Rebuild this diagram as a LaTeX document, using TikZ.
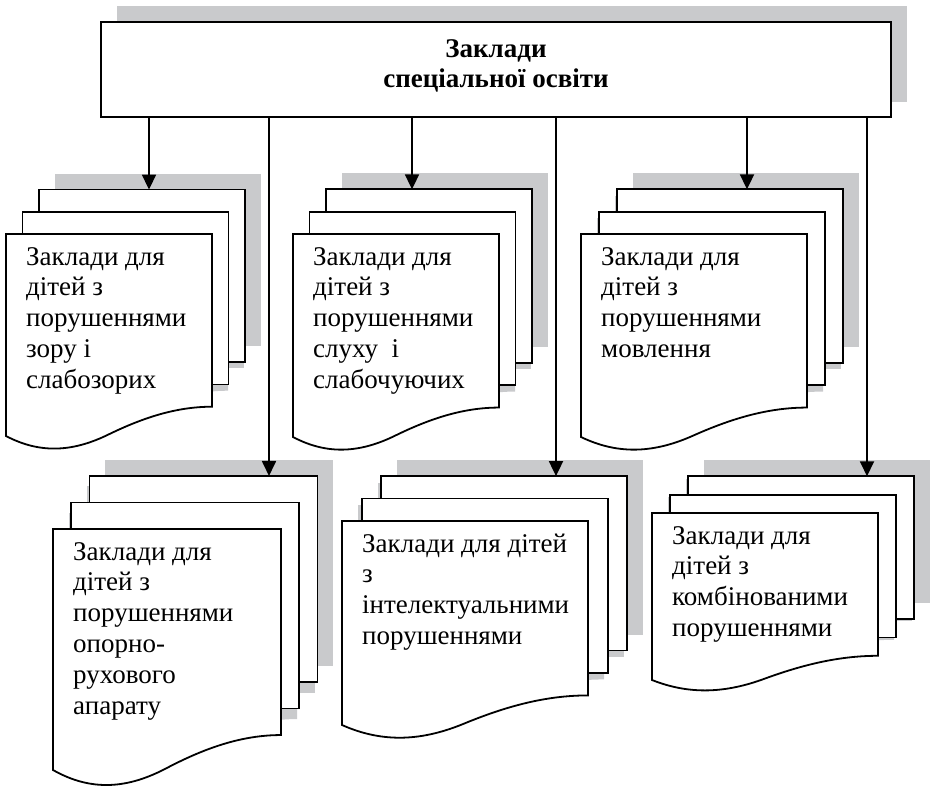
\documentclass[tikz,border=0pt]{standalone}
\usepackage{fontspec}
\setmainfont{Liberation Serif}
\usetikzlibrary{arrows.meta}

\definecolor{shadowgray}{RGB}{201,202,204}

% front sheet with wavy bottom: x, y, width, height, wave
\newcommand{\frontpath}[5]{(#1,#2) -- (#1+#3,#2) -- (#1+#3,#2+#4-#5)
	.. controls (#1+0.83*#3,#2+#4-#5) and (#1+0.67*#3,#2+#4-0.64*#5) .. (#1+0.5*#3,#2+#4-0.06*#5)
	.. controls (#1+0.33*#3,#2+#4+0.53*#5) and (#1+0.17*#3,#2+#4+0.63*#5) .. (#1,#2+#4) -- cycle}

% stack of three sheets: name, x, y, width, height, arrow x, text
\newcommand{\docstack}[7]{
	\pgfmathsetmacro{\sdx}{0.08*#4}
	\pgfmathsetmacro{\sdy}{0.11*#5}
	\pgfmathsetmacro{\sda}{0.145*#5}
	\fill[shadowgray] (#2+2*\sdx+16,#3-2*\sdy-16) rectangle ++(#4,#5-\sda);
	\fill[shadowgray] (#2+\sdx+16,#3-\sdy-16) rectangle ++(#4,#5-\sda);
	\fill[shadowgray, shift={(16,-16)}] \frontpath{#2}{#3}{#4}{#5}{\sda};
	\draw[sheet] (#2+2*\sdx,#3-2*\sdy) rectangle ++(#4,#5-\sda);
	\draw[sheet] (#2+\sdx,#3-\sdy) rectangle ++(#4,#5-\sda);
	\draw[sheet] \frontpath{#2}{#3}{#4}{#5}{\sda};
	\coordinate (#1-in) at (#6,#3-2*\sdy);
	\node[doc_text] (#1) at (#2+20,#3+9.4) {\strut #7};
}

\begin{document}
\begin{tikzpicture}[x=1pt, y=-1pt,
		sheet/.style={draw=black, fill=white, line width=1.8pt},
		title_box/.style={rectangle, draw=black, fill=white, line width=1.8pt,
			minimum width=790pt, minimum height=95pt, inner sep=0pt},
		title_text/.style={align=center, inner sep=0pt,
			font=\fontsize{27}{30}\selectfont\bfseries},
		doc_text/.style={align=left, anchor=north west, inner sep=0pt,
			font=\fontsize{27}{30.8}\selectfont},
		arrow_style/.style={draw=black, line width=1.8pt, -{Triangle[width=14pt, length=15pt]}}]

	\useasboundingbox (0,0) rectangle (932,787);

	% head box
	\fill[shadowgray] (117,6) rectangle (907,102);
	\node[title_box] (zaklady) at (496,69.5) {};
	\node[title_text] (zaklady_name) at (496,65.5) {Заклади\\спеціальної освіти};

	% first row
	\docstack{zir}{6}{234}{206}{202}{149}{Заклади для\\дітей з\\порушеннями\\зору і\\слабозорих}
	\docstack{sluh}{293}{234}{206}{203}{412}{Заклади для\\дітей з\\порушеннями\\слуху\ \ і\\слабочуючих}
	\docstack{movl}{581}{234}{226}{203}{747}{Заклади для\\дітей з\\порушеннями\\мовлення}

	% second row
	\docstack{oporn}{53}{529}{228}{241}{269}{Заклади для\\дітей з\\порушеннями\\опорно-\\рухового\\апарату}
	\docstack{intel}{342}{521}{246}{204}{556}{Заклади для дітей\\з\\інтелектуальними\\порушеннями}
	\docstack{komb}{652}{513}{226}{167}{867}{Заклади для\\дітей з\\комбінованими\\порушеннями}

	\draw[arrow_style] (zaklady.south -| zir-in) -- (zir-in);
	\draw[arrow_style] (zaklady.south -| sluh-in) -- (sluh-in);
	\draw[arrow_style] (zaklady.south -| movl-in) -- (movl-in);
	\draw[arrow_style] (zaklady.south -| oporn-in) -- (oporn-in);
	\draw[arrow_style] (zaklady.south -| intel-in) -- (intel-in);
	\draw[arrow_style] (zaklady.south -| komb-in) -- (komb-in);

\end{tikzpicture}
\end{document}
